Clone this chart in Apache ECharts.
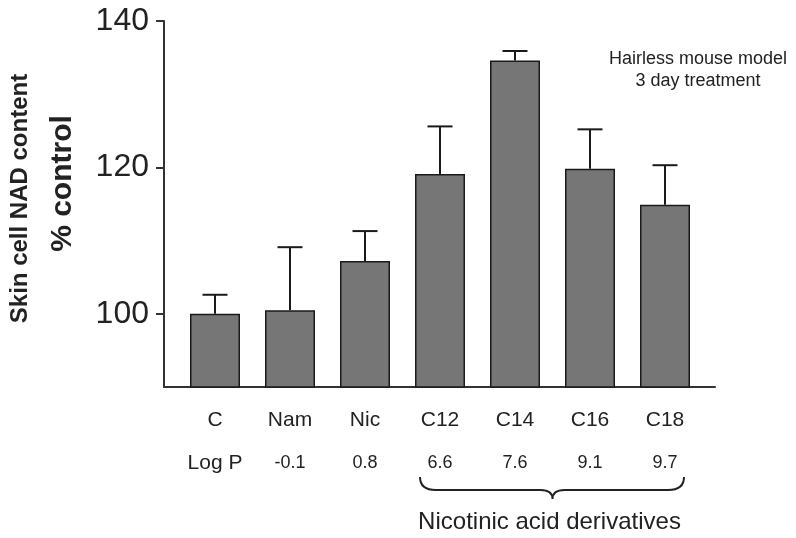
<!DOCTYPE html>
<html>
<head>
<meta charset="utf-8">
<script src="https://cdn.jsdelivr.net/npm/echarts@6/dist/echarts.min.js"></script>
<style>
  html, body { margin: 0; background: #fff; }
  #chart { width: 796px; height: 538px; }
</style>
</head>
<body>
<div id="chart"></div>
<script>
// data
const categories = ['C', 'Nam', 'Nic', 'C12', 'C14', 'C16', 'C18'];
const logP = ['Log P', '-0.1', '0.8', '6.6', '7.6', '9.1', '9.7'];
const means = [100.0, 100.5, 107.2, 119.1, 134.6, 119.8, 114.9];
const upper = [102.6, 109.1, 111.3, 125.6, 135.9, 125.2, 120.3];
const yTicks = [100, 120, 140];
const groupRange = ['C12', 'C18'];
const groupLabel = 'Nicotinic acid derivatives';
const note = ['Hairless mouse model', '3 day treatment'];

const FONT = "'Liberation Sans', Arial, sans-serif";
const INK = '#222';

const chart = echarts.init(document.getElementById('chart'));

chart.setOption({
  backgroundColor: '#fff',
  animation: false,
  textStyle: { fontFamily: FONT, color: INK },
  title: {
    text: note.join('\n'),
    left: 698,
    top: 48,
    padding: 0,
    textAlign: 'center',
    textStyle: { fontFamily: FONT, fontSize: 18, fontWeight: 'normal', color: INK, lineHeight: 22 }
  },
  grid: [
    // bars
    { left: 177.5, right: 93.5, top: 21, bottom: 151 },
    // axis frame (a bit wider than the bars)
    { left: 163, right: 81, top: 21, bottom: 151 }
  ],
  xAxis: [
    {
      type: 'category',
      gridIndex: 0,
      data: categories,
      axisLine: { show: false },
      axisTick: { show: false },
      axisLabel: { margin: 23, fontSize: 21, color: INK, fontFamily: FONT }
    },
    {
      type: 'category',
      gridIndex: 0,
      position: 'bottom',
      offset: 41,
      data: logP,
      axisLine: { show: false },
      axisTick: { show: false },
      axisLabel: {
        margin: 23,
        formatter: (v, i) => i === 0 ? '{h|' + v + '}' : '{n|' + v + '}',
        rich: {
          h: { fontSize: 21, color: INK, fontFamily: FONT, lineHeight: 24 },
          n: { fontSize: 18, color: INK, fontFamily: FONT, lineHeight: 24 }
        }
      }
    },
    {
      type: 'value',
      gridIndex: 1,
      min: 0,
      max: 1,
      axisLine: { show: true, lineStyle: { color: '#333', width: 2 } },
      axisTick: { show: false },
      axisLabel: { show: false },
      splitLine: { show: false }
    }
  ],
  yAxis: [
    {
      type: 'value',
      gridIndex: 0,
      min: 90,
      max: 140,
      show: false
    },
    {
      type: 'value',
      gridIndex: 1,
      min: 90,
      max: 140,
      axisLine: { show: true, lineStyle: { color: '#333', width: 2 } },
      axisTick: { show: true, length: 8, customValues: yTicks, lineStyle: { color: '#333', width: 2 } },
      axisLabel: { customValues: yTicks, margin: 15, fontSize: 32, color: INK, fontFamily: FONT },
      splitLine: { show: false },
      name: '{a|Skin cell NAD content}\n{b|% control}',
      nameLocation: 'middle',
      nameRotate: 90,
      nameGap: 76,
      nameTextStyle: {
        rich: {
          a: { fontSize: 24, fontWeight: 'bold', color: INK, fontFamily: FONT, lineHeight: 36, padding: [0, 0, 0, 11] },
          b: { fontSize: 30, fontWeight: 'bold', color: INK, fontFamily: FONT, lineHeight: 50, padding: [0, 0, 0, 41] }
        }
      }
    }
  ],
  series: [
    {
      type: 'bar',
      xAxisIndex: 0,
      yAxisIndex: 0,
      data: means,
      barWidth: 50,
      itemStyle: { color: '#767676', borderColor: '#1a1a1a', borderWidth: 1.5 },
      z: 2
    },
    {
      // upper error bars
      type: 'custom',
      xAxisIndex: 0,
      yAxisIndex: 0,
      data: means.map((m, i) => [i, m, upper[i]]),
      renderItem: (params, api) => {
        const base = api.coord([api.value(0), api.value(1)]);
        const top = api.coord([api.value(0), api.value(2)]);
        const st = { stroke: '#1a1a1a', lineWidth: 2 };
        return {
          type: 'group',
          children: [
            { type: 'line', shape: { x1: base[0], y1: base[1], x2: base[0], y2: top[1] }, style: st },
            { type: 'line', shape: { x1: base[0] - 12.5, y1: top[1], x2: base[0] + 12.5, y2: top[1] }, style: st }
          ]
        };
      },
      z: 3
    },
    {
      // brace under the derivative group
      type: 'custom',
      xAxisIndex: 0,
      yAxisIndex: 0,
      clip: false,
      data: [[categories.indexOf(groupRange[0]), categories.indexOf(groupRange[1]), 90]],
      renderItem: (params, api) => {
        const a = api.coord([api.value(0), api.value(2)]);
        const b = api.coord([api.value(1), api.value(2)]);
        const x0 = a[0] - 20, x1 = b[0] + 19, xm = (a[0] + b[0]) / 2;
        const y0 = a[1] + 90, y1 = a[1] + 103, yt = a[1] + 112;
        const path = 'M' + x0 + ' ' + y0 +
          ' Q' + x0 + ' ' + y1 + ' ' + (x0 + 16) + ' ' + y1 +
          ' L' + (xm - 12) + ' ' + y1 +
          ' Q' + xm + ' ' + y1 + ' ' + xm + ' ' + yt +
          ' Q' + xm + ' ' + y1 + ' ' + (xm + 12) + ' ' + y1 +
          ' L' + (x1 - 16) + ' ' + y1 +
          ' Q' + x1 + ' ' + y1 + ' ' + x1 + ' ' + y0;
        return {
          type: 'group',
          children: [
            { type: 'path', shape: { pathData: path }, style: { stroke: INK, lineWidth: 2, fill: null } },
            {
              type: 'text',
              x: xm - 3,
              y: a[1] + 135,
              style: { text: groupLabel, fontSize: 24, fontFamily: FONT, fill: INK, align: 'center', verticalAlign: 'middle' }
            }
          ]
        };
      }
    }
  ]
});
</script>
</body>
</html>
